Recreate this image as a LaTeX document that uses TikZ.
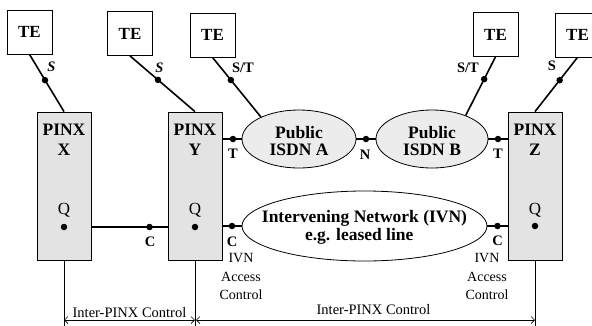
\documentclass[tikz,border=0pt]{standalone}
\usepackage{fontspec}
\setmainfont{Liberation Serif}
\usetikzlibrary{shapes.geometric,arrows.meta}
\definecolor{pinxgray}{HTML}{E3E3E3}
\definecolor{ellgray}{HTML}{ECECEC}
\begin{document}
\begin{tikzpicture}[x=1pt,y=-1pt,
  tebox/.style={draw, line width=0.8pt, fill=white, minimum width=45pt, minimum height=44pt, inner sep=0pt,
    font=\fontsize{17}{20}\selectfont\bfseries},
  pinx/.style={draw, line width=0.8pt, fill=pinxgray, minimum width=54pt, minimum height=148pt, inner sep=0pt},
  pinxtxt/.style={align=center, inner sep=0pt, font=\fontsize{17.5}{20}\selectfont\bfseries},
  net/.style={ellipse, draw, line width=0.8pt, inner sep=0pt},
  nettxt/.style={align=center, inner sep=0pt, font=\fontsize{17.5}{17}\selectfont\bfseries},
  conn/.style={line width=1.6pt},
  dotnode/.style={circle, fill=black, inner sep=0pt, minimum size=6.5pt},
  reflbl/.style={inner sep=0pt, font=\fontsize{14.5}{16}\selectfont\bfseries},
  qlbl/.style={inner sep=0pt, font=\fontsize{17}{20}\selectfont},
  ctl/.style={inner sep=0pt, align=center, font=\fontsize{14}{18.5}\selectfont},
  thinline/.style={line width=0.7pt},
  dim/.style={line width=0.7pt, {Straight Barb[length=3.5pt,width=7pt]}-{Straight Barb[length=3.5pt,width=7pt]}}
]
\useasboundingbox (0,0) rectangle (592,325);
\clip (0,0) rectangle (592,325);
\fill[white] (0,0) rectangle (592,325);

% terminal equipment
\node[tebox] (te1) at (29.5,32) {TE};
\node[tebox] (te2) at (130,33.5) {TE};
\node[tebox] (te3) at (212.5,35) {TE};
\node[tebox] (te4) at (495.5,34.5) {TE};
\node[tebox] (te5) at (577.5,35) {TE};

% PINX boxes
\node[pinx] (X) at (64,186) {};
\node[pinx] (Y) at (195,186) {};
\node[pinx] (Z) at (535,186) {};
\node[pinxtxt] (Xt) at (64,140) {PINX\\X};
\node[pinxtxt] (Yt) at (195,140) {PINX\\Y};
\node[pinxtxt] (Zt) at (535,140) {PINX\\Z};
\node[qlbl] (Xq) at (64,210) {Q};
\node[qlbl] (Yq) at (195,210) {Q};
\node[qlbl] (Zq) at (535,210) {Q};
\node[dotnode] (Xd) at (64,227) {};
\node[dotnode] (Yd) at (195,227) {};
\node[dotnode] (Zd) at (535,226) {};

% networks
\node[net, fill=ellgray, minimum width=114pt, minimum height=58pt] (pubA) at (299,139) {};
\node[nettxt] (pubAt) at (299,141.5) {Public\\ISDN A};
\node[net, fill=ellgray, minimum width=112pt, minimum height=58pt] (pubB) at (432,139) {};
\node[nettxt] (pubBt) at (432,141.5) {Public\\ISDN B};
\node[net, fill=white, minimum width=245pt, minimum height=70pt] (ivn) at (364.5,226) {};
\node[nettxt, font=\fontsize{17.5}{18}\selectfont\bfseries] (ivnt) at (364.5,227.5) {Intervening Network (IVN)\\e.g. leased line\hspace*{0.6em}};

% TE connectors
\draw[conn] (te1.south) -- node[dotnode, pos=0.45] (d1) {} (X.north);
\draw[conn] (te2.south) -- node[dotnode, pos=0.43] (d2) {} (Y.north);
\draw[conn] (te3.south) -- node[dotnode, pos=0.38] (d3) {} (pubA.150);
\draw[conn] (te4.south) -- node[dotnode, pos=0.38] (d4) {} (pubB.35);
\draw[conn] (te5.south) -- node[dotnode, pos=0.42] (d5) {} (Z.north);
\node[reflbl, font=\fontsize{14.5}{16}\selectfont\bfseries\itshape] (s1) at (51.5,67) {S};
\node[reflbl, font=\fontsize{14.5}{16}\selectfont\bfseries\itshape] (s2) at (159.5,68) {S};
\node[reflbl] (s3) at (243,68) {S/T};
\node[reflbl] (s4) at (468,68) {S/T};
\node[reflbl] (s5) at (552,66) {S};

% upper chain
\draw[conn] (Y.east |- pubA.west) -- node[dotnode, pos=0.55] (tA) {} (pubA.west);
\draw[conn] (pubA.east) -- node[dotnode] (nAB) {} (pubB.west);
\draw[conn] (pubB.east) -- node[dotnode, pos=0.5] (tB) {} (Z.west |- pubB.east);
\node[reflbl] (tAl) at (233,154) {T};
\node[reflbl] (nl) at (365,155) {N};
\node[reflbl] (tBl) at (498,154) {T};

% lower chain
\draw[conn] (X.east |- Xd) -- node[dotnode, pos=0.763] (c1) {} (Y.west |- Yd);
\draw[conn] (Y.east |- ivn.west) -- node[dotnode, pos=0.5] (c2) {} (ivn.west);
\draw[conn] (ivn.east) -- node[dotnode, pos=0.5] (c3) {} (Z.west |- ivn.east);
\node[reflbl] (c1l) at (150,242) {C};
\node[reflbl] (c2l) at (232,242) {C};
\node[reflbl] (c3l) at (497.5,241) {C};
\node[ctl] (acl) at (241,276.5) {IVN\\Access\\Control};
\node[ctl] (acr) at (487,276.5) {IVN\\Access\\Control};

% inter-PINX control dimension
\coordinate (base) at (0,320);
\coordinate (bottom) at (0,330);
\draw[thinline] (X.south) -- (X.south |- bottom);
\draw[thinline] (Y.south) -- (Y.south |- bottom);
\draw[thinline] (Z.south) -- (Z.south |- bottom);
\draw[dim] (X.south |- base) -- node[above=2pt, inner sep=0pt, font=\fontsize{14.5}{16}\selectfont] (ipc1) {Inter-PINX Control} (Y.south |- base);
\draw[dim] ([xshift=1pt]Y.south |- base) -- (Z.south |- base);
\node[inner sep=0pt, font=\fontsize{14.5}{16}\selectfont] (ipc2) at (373.5,310) {Inter-PINX Control};
\end{tikzpicture}
\end{document}
